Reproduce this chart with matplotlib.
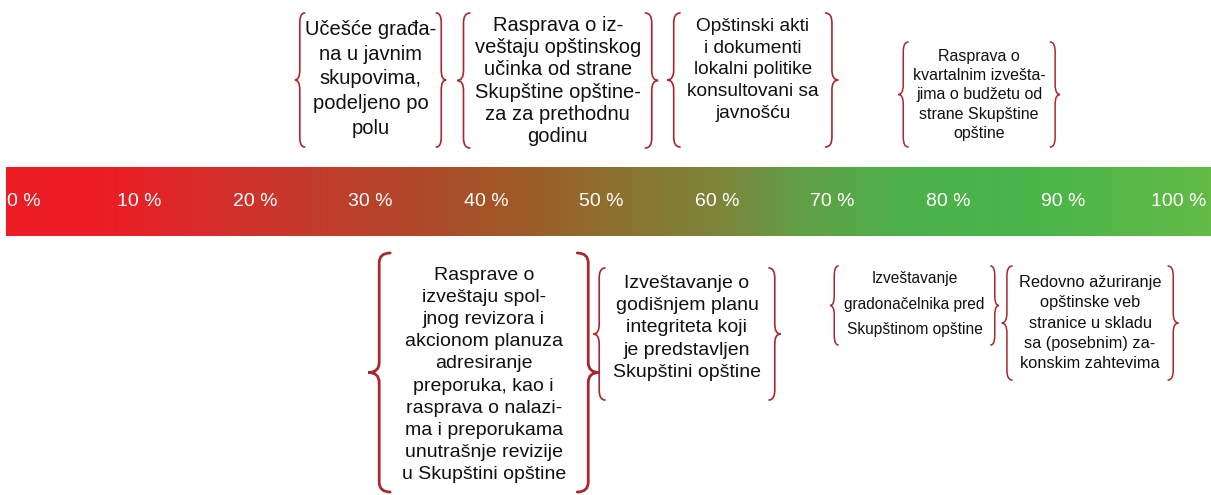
import matplotlib.pyplot as plt
import numpy as np
from matplotlib.path import Path
from matplotlib.patches import PathPatch
from matplotlib.colors import LinearSegmentedColormap

# scale ticks along the bar
ticks = [0, 10, 20, 30, 40, 50, 60, 70, 80, 90, 100]
tick_labels = ["%d %%" % t for t in ticks]

# items above the bar (position on scale, text)
top_pos = [30.0, 46.2, 63.1, 82.7]
top_text = [
    "Učešće građa-\nna u javnim\nskupovima,\npodeljeno po\npolu",
    "Rasprava o iz-\nveštaju opštinskog\nučinka od strane\nSkupštine opštine-\nza za prethodnu\ngodinu",
    "Opštinski akti\ni dokumenti\nlokalni politike\nkonsultovani sa\njavnošću",
    "Rasprava o\nkvartalnim izvešta-\njima o budžetu od\nstrane Skupštine\nopštine",
]
# items below the bar
bot_pos = [39.8, 57.4, 77.1, 92.3]
bot_text = [
    "Rasprave o\nizveštaju spol-\njnog revizora i\nakcionom planuza\nadresiranje\npreporuka, kao i\nrasprava o nalazi-\nma i preporukama\nunutrašnje revizije\nu Skupštini opštine",
    "Izveštavanje o\ngodišnjem planu\nintegriteta koji\nje predstavljen\nSkupštini opštine",
    "Izveštavanje\ngradonačelnika pred\nSkupštinom opštine",
    "Redovno ažuriranje\nopštinske veb\nstranice u skladu\nsa (posebnim) za-\nkonskim zahtevima",
]

# layout: half width (%), brace depth (%), top y, bottom y, font size, line spacing, text y, line width
top_lay = [(5.7, 0.85, 13, 147, 14.5, 1.38, 79, 1.2),
           (7.6, 1.1, 13, 148, 14.5, 1.22, 81, 1.2),
           (6.3, 1.1, 13, 147, 13.8, 1.38, 70, 1.2),
           (6.15, 0.85, 42, 147, 11.5, 1.35, 95, 1.1)]
bot_lay = [(8.1, 1.9, 253, 492, 14.0, 1.4, 375, 2.0),
           (7.1, 1.0, 268, 400, 14.0, 1.4, 328, 1.2),
           (6.6, 0.7, 266, 345, 11.2, 1.9, 304, 1.1),
           (6.75, 0.9, 266, 380, 11.8, 1.45, 323, 1.1)]

bar_colors = [(0.0, "#ED1C24"), (0.08, "#EC1D25"), (0.2, "#CF332C"),
              (0.33, "#B2462A"), (0.42, "#9F5A28"), (0.52, "#8A7530"),
              (0.6, "#7B873C"), (0.66, "#62A045"), (0.74, "#4DB04A"),
              (0.85, "#49B54A"), (1.0, "#62BB46")]

BRACE = "#A8282C"
FONT = ["Liberation Sans", "DejaVu Sans"]


def brace(ax, xc, half, w, y0, y1, lw):
    ym = (y0 + y1) / 2.0
    r = 10
    for side in (-1, 1):
        xo = xc + side * (half + w)   # cusp
        xi = xc + side * half         # ends
        xm = (xo + xi) / 2.0
        verts = [(xi, y0), (xm, y0), (xm, y0 + r),
                 (xm, ym - r),
                 (xm, ym), (xo, ym),
                 (xm, ym), (xm, ym + r),
                 (xm, y1 - r),
                 (xm, y1), (xi, y1)]
        codes = [Path.MOVETO, Path.CURVE3, Path.CURVE3,
                 Path.LINETO,
                 Path.CURVE3, Path.CURVE3,
                 Path.CURVE3, Path.CURVE3,
                 Path.LINETO,
                 Path.CURVE3, Path.CURVE3]
        ax.add_patch(PathPatch(Path(verts, codes), fill=False,
                               edgecolor=BRACE, lw=lw, capstyle="round"))


def draw_items(ax, positions, texts, layout):
    for pos, txt, lay in zip(positions, texts, layout):
        half, w, y0, y1, fs, ls, ty, lw = lay
        brace(ax, pos, half, w, y0, y1, lw)
        ax.text(pos, ty, txt, ha="center", va="center", fontsize=fs,
                linespacing=ls, family=FONT, color="#111111")


def main():
    fig = plt.figure(figsize=(12.11, 4.95), dpi=100)
    ax = fig.add_axes([0, 0, 1, 1])
    ax.set_xlim(-2.08, 102.77)
    ax.set_ylim(495, 0)
    ax.axis("off")

    cmap = LinearSegmentedColormap.from_list("rg", bar_colors)
    grad = np.linspace(0, 1, 512).reshape(1, -1)
    ax.imshow(grad, cmap=cmap, aspect="auto", extent=(-1.55, 102.77, 236, 167),
              interpolation="bilinear")

    for t, lab in zip(ticks, tick_labels):
        ax.text(t, 202, lab, color="white", ha="center", va="center",
                fontsize=14, family=FONT)

    draw_items(ax, top_pos, top_text, top_lay)
    draw_items(ax, bot_pos, bot_text, bot_lay)

    fig.savefig("out.png", dpi=100)


if __name__ == "__main__":
    main()
